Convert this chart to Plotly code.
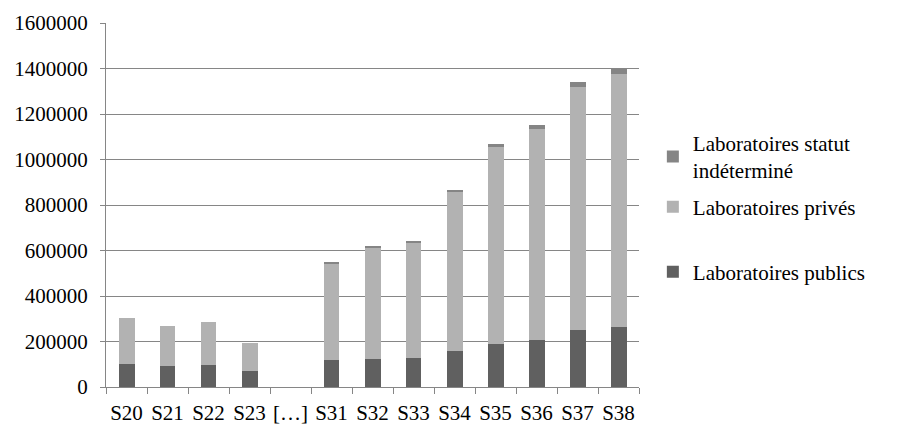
import plotly.graph_objects as go

categories = ["S20", "S21", "S22", "S23", "[…]", "S31", "S32", "S33", "S34", "S35", "S36", "S37", "S38"]
publics = [100000, 91000, 95000, 69000, None, 119000, 123000, 127000, 158000, 189000, 207000, 251000, 264000]
prives = [202000, 176000, 189000, 123000, None, 426000, 488000, 510000, 699000, 866000, 927000, 1068000, 1112000]
indetermines = [0, 0, 0, 0, None, 4000, 8000, 4000, 9000, 13000, 18000, 22000, 22000]

FONT = "'Liberation Serif', 'Times New Roman', 'DejaVu Serif', serif"
fs = 21

fig = go.Figure()
fig.add_trace(go.Bar(x=categories, y=publics, name="Laboratoires publics",
                     marker=dict(color="#606060", line=dict(width=0)), legend="legend3"))
fig.add_trace(go.Bar(x=categories, y=prives, name="Laboratoires privés",
                     marker=dict(color="#b2b2b2", line=dict(width=0)), legend="legend2"))
fig.add_trace(go.Bar(x=categories, y=indetermines, name="Laboratoires statut<br>indéterminé",
                     marker=dict(color="#858585", line=dict(width=0)), legend="legend"))

leg = dict(font=dict(family=FONT, size=fs, color="black"), bgcolor="rgba(0,0,0,0)",
           xanchor="left", yanchor="middle", itemsizing="constant")
fig.update_layout(
    width=898, height=440,
    barmode="stack", bargap=0.61,
    plot_bgcolor="white", paper_bgcolor="white",
    margin=dict(l=106, r=259, t=23, b=53),
    font=dict(family=FONT, size=fs, color="black"),
    showlegend=True,
    legend=dict(**leg, x=1.026, y=0.633),
    legend2=dict(**leg, x=1.026, y=0.4945),
    legend3=dict(**leg, x=1.026, y=0.316),
    xaxis=dict(showline=True, linecolor="#868686", linewidth=1, automargin=False,
               ticks="outside", tickson="boundaries", ticklen=6, tickcolor="#868686",
               ticklabelstandoff=7, tickangle=0,
               showgrid=False, tickfont=dict(family=FONT, size=fs)),
    yaxis=dict(range=[0, 1600000], dtick=200000, showline=True, linecolor="#868686",
               linewidth=1, ticks="outside", ticklen=5, tickcolor="#868686", automargin=False,
               ticklabelstandoff=8,
               showgrid=True, gridcolor="#868686", gridwidth=1,
               tickformat="d", zeroline=False, tickfont=dict(family=FONT, size=fs)),
)
fig.write_html("out.html", config={"displayModeBar": False},
               post_script="document.body.style.margin='0';document.body.style.overflow='hidden';")
